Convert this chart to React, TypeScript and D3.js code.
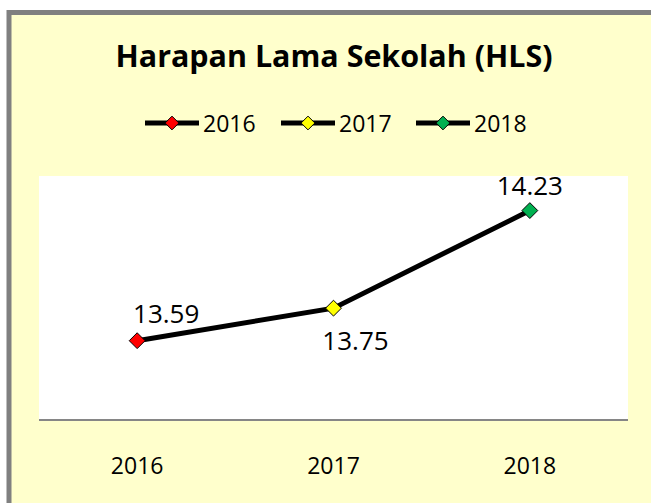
import React, { useEffect, useRef } from 'react';
import * as d3 from 'd3';

const years = ['2016', '2017', '2018'];
const hls = [13.59, 13.75, 14.23];
const markerColors = ['#FF0000', '#FFFF00', '#00B050'];
const title = 'Harapan Lama Sekolah (HLS)';

const W = 651;
const H = 503;
const font = "'Open Sans', 'Noto Sans', sans-serif";

const App = () => {
  const svgRef = useRef<SVGSVGElement>(null);

  useEffect(() => {
    const svg = d3.select(svgRef.current);
    svg.selectAll('*').remove();

    // outer chart frame
    svg.append('rect')
      .attr('x', 9).attr('y', 12.5)
      .attr('width', 680).attr('height', 540)
      .attr('fill', '#FFFFCC')
      .attr('stroke', '#808080')
      .attr('stroke-width', 5);

    const plot = { left: 39, right: 628, top: 176, bottom: 420 };

    const x = d3.scaleBand().domain(years).range([plot.left, plot.right]);
    const y = d3.scaleLinear().domain([13.2, 14.4]).range([plot.bottom, plot.top]);
    const cx = (d: string) => (x(d) as number) + x.bandwidth() / 2;

    svg.append('rect')
      .attr('x', plot.left).attr('y', plot.top)
      .attr('width', plot.right - plot.left).attr('height', plot.bottom - plot.top)
      .attr('fill', '#fff');

    svg.append('line')
      .attr('x1', plot.left).attr('x2', plot.right)
      .attr('y1', plot.bottom).attr('y2', plot.bottom)
      .attr('stroke', '#868686').attr('stroke-width', 2);

    // title
    svg.append('text')
      .attr('x', 334).attr('y', 67)
      .attr('text-anchor', 'middle')
      .attr('textLength', 437)
      .attr('lengthAdjust', 'spacingAndGlyphs')
      .style('font', `bold 30px ${font}`)
      .text(title);

    // legend
    const legendDiamond = d3.symbol().type(d3.symbolDiamond2).size(120);
    const legendX = [145, 281, 416];
    const leg = svg.append('g')
      .selectAll('g')
      .data(years)
      .join('g')
      .attr('transform', (d, i) => `translate(${legendX[i]},123)`);
    leg.append('line')
      .attr('x1', 0).attr('x2', 54)
      .attr('stroke', '#000').attr('stroke-width', 5);
    leg.append('path')
      .attr('d', legendDiamond)
      .attr('transform', 'translate(27,0)')
      .attr('fill', (d, i) => markerColors[i])
      .attr('stroke', '#000').attr('stroke-width', 1);
    leg.append('text')
      .attr('x', 58).attr('y', 8.5)
      .style('font', `23px ${font}`)
      .text(d => d);

    // line
    const pts = years.map((d, i) => ({ year: d, v: hls[i], color: markerColors[i] }));
    svg.append('path')
      .datum(pts)
      .attr('fill', 'none')
      .attr('stroke', '#000')
      .attr('stroke-width', 5)
      .attr('d', d3.line<any>().x(d => cx(d.year)).y(d => y(d.v)));

    const diamond = d3.symbol().type(d3.symbolDiamond2).size(160);
    svg.append('g')
      .selectAll('path')
      .data(pts)
      .join('path')
      .attr('d', diamond)
      .attr('transform', d => `translate(${cx(d.year)},${y(d.v)})`)
      .attr('fill', d => d.color)
      .attr('stroke', '#000').attr('stroke-width', 1);

    // data labels
    const labelOffset = [[29, -18], [22, 42], [0, -16]];
    svg.append('g')
      .selectAll('text')
      .data(pts)
      .join('text')
      .attr('x', (d, i) => cx(d.year) + labelOffset[i][0])
      .attr('y', (d, i) => y(d.v) + labelOffset[i][1])
      .attr('text-anchor', 'middle')
      .style('font', `26px ${font}`)
      .text(d => d.v.toFixed(2));

    // x axis labels
    svg.append('g')
      .selectAll('text')
      .data(years)
      .join('text')
      .attr('x', d => cx(d))
      .attr('y', 474)
      .attr('text-anchor', 'middle')
      .style('font', `23px ${font}`)
      .text(d => d);
  }, []);

  return (
    <svg ref={svgRef} width={W} height={H}
      style={{ position: 'absolute', left: 0, top: 0, display: 'block' }} />
  );
};

export default App;
